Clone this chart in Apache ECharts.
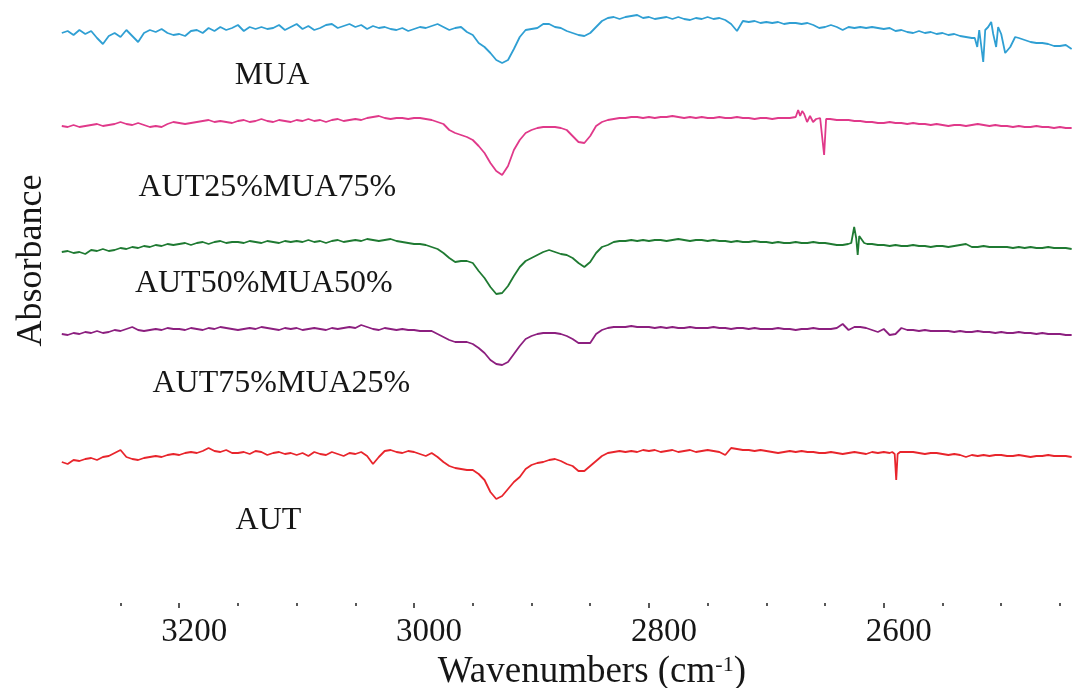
<!DOCTYPE html>
<html>
<head>
<meta charset="utf-8">
<script src="https://cdn.jsdelivr.net/npm/echarts@6/dist/echarts.min.js"></script>
<style>
html,body{margin:0;padding:0;background:#fff;}
#chart{width:1074px;height:688px;}
</style>
</head>
<body>
<div id="chart"></div>
<script>
// Wavenumber sampling grid (cm-1): 3300 down to 2440, step 5
const wnStart = 3300;
const wnStep = 5;

const seriesNames = ['MUA', 'AUT25%MUA75%', 'AUT50%MUA50%', 'AUT75%MUA25%', 'AUT'];
const seriesColors = ['#2f9fd3', '#e0398a', '#1f7a32', '#8c1f7f', '#e8252c'];

const tickLabels = [3200, 3000, 2800, 2600];
const minorTicks = [3250, 3150, 3100, 3050, 2950, 2900, 2850, 2750, 2700, 2650, 2550, 2500, 2450];

// Label anchor points [wavenumber, absorbance]
const labelPos = [[3121, 5.27], [3125, 4.15], [3128, 3.19], [3113, 2.19], [3124, 0.82]];

const mua = [
5.70,5.72,5.68,5.73,5.69,5.72,5.65,5.59,5.67,5.70,
5.66,5.73,5.67,5.61,5.70,5.73,5.71,5.74,5.70,5.68,
5.69,5.67,5.72,5.73,5.70,5.75,5.72,5.76,5.73,5.75,
5.78,5.72,5.76,5.74,5.76,5.74,5.75,5.78,5.73,5.76,
5.79,5.74,5.77,5.73,5.75,5.78,5.79,5.75,5.77,5.79,
5.76,5.78,5.74,5.77,5.75,5.76,5.74,5.73,5.75,5.72,
5.74,5.76,5.75,5.77,5.79,5.76,5.73,5.75,5.76,5.71,
5.68,5.60,5.56,5.50,5.43,5.40,5.43,5.54,5.66,5.73,
5.74,5.75,5.79,5.79,5.76,5.75,5.72,5.70,5.68,5.67,
5.70,5.76,5.82,5.85,5.86,5.84,5.86,5.87,5.88,5.85,
5.86,5.84,5.85,5.86,5.84,5.86,5.84,5.83,5.85,5.84,
5.86,5.84,5.85,5.83,5.79,5.72,5.82,5.81,5.82,5.80,
5.81,5.80,5.81,5.79,5.80,5.80,5.79,5.80,5.78,5.75,
5.76,5.78,5.76,5.73,5.76,5.75,5.76,5.75,5.76,5.75,
5.74,5.75,5.72,5.73,5.71,5.70,5.72,5.70,5.71,5.69,
5.70,5.68,5.69,5.67,5.66,5.65,5.63,5.53,5.78,5.58,
5.69,5.53,5.63,5.65,5.63,5.61,5.60,5.60,5.59,5.57,
5.57,5.58,5.54
];
const muaDetail = [
[2522.5,5.65],[2520.4,5.56],[2518.7,5.73],[2515.3,5.41],[2513.6,5.73],[2511.1,5.76],
[2508.5,5.81],[2506.8,5.69],[2504.3,5.56],[2502.6,5.76],[2500.0,5.69],[2496.6,5.50],
[2492.3,5.56],[2488.1,5.66]
];

const aut25mua75 = [
4.77,4.76,4.78,4.76,4.77,4.78,4.79,4.77,4.78,4.79,
4.81,4.79,4.78,4.80,4.78,4.76,4.77,4.76,4.79,4.81,
4.80,4.79,4.80,4.81,4.82,4.83,4.81,4.82,4.81,4.80,
4.82,4.83,4.81,4.82,4.84,4.82,4.81,4.83,4.82,4.81,
4.83,4.82,4.84,4.82,4.83,4.81,4.83,4.84,4.82,4.83,
4.84,4.83,4.85,4.86,4.87,4.85,4.84,4.85,4.85,4.84,
4.85,4.85,4.84,4.83,4.81,4.79,4.73,4.70,4.68,4.66,
4.63,4.57,4.50,4.40,4.32,4.28,4.37,4.53,4.63,4.70,
4.73,4.75,4.76,4.76,4.76,4.75,4.73,4.67,4.61,4.60,
4.67,4.77,4.81,4.83,4.84,4.85,4.85,4.86,4.86,4.85,
4.86,4.85,4.86,4.86,4.87,4.86,4.85,4.86,4.85,4.86,
4.85,4.85,4.86,4.85,4.85,4.86,4.85,4.85,4.84,4.85,
4.85,4.84,4.85,4.85,4.85,4.86,4.88,4.81,4.81,4.85,
4.84,4.84,4.83,4.83,4.83,4.82,4.82,4.81,4.81,4.80,
4.80,4.81,4.80,4.80,4.79,4.80,4.79,4.79,4.78,4.79,
4.78,4.77,4.78,4.78,4.77,4.78,4.79,4.78,4.77,4.78,
4.77,4.77,4.76,4.77,4.76,4.76,4.77,4.76,4.76,4.75,
4.76,4.75,4.75
];
const aut25mua75Detail = [
[2672.9,4.93],[2671.2,4.87],[2669.5,4.92],[2667.8,4.89],[2665.3,4.81],[2662.8,4.87],
[2660.2,4.81],[2657.6,4.84],[2654.2,4.85],[2652.5,4.83],[2650.8,4.48],[2649.1,4.84],
[2645.7,4.84]
];

const aut50mua50 = [
3.51,3.52,3.50,3.51,3.49,3.53,3.52,3.54,3.52,3.53,
3.55,3.54,3.56,3.55,3.57,3.56,3.58,3.57,3.59,3.58,
3.59,3.60,3.58,3.60,3.61,3.59,3.61,3.62,3.60,3.61,
3.61,3.60,3.62,3.61,3.60,3.62,3.61,3.60,3.62,3.61,
3.62,3.61,3.63,3.61,3.62,3.60,3.62,3.63,3.61,3.62,
3.63,3.62,3.64,3.63,3.62,3.63,3.64,3.62,3.61,3.60,
3.59,3.59,3.58,3.56,3.54,3.50,3.45,3.41,3.42,3.42,
3.40,3.32,3.25,3.16,3.09,3.10,3.17,3.27,3.36,3.42,
3.45,3.48,3.51,3.53,3.51,3.49,3.48,3.45,3.40,3.36,
3.41,3.50,3.56,3.58,3.61,3.62,3.62,3.63,3.62,3.63,
3.62,3.63,3.63,3.62,3.63,3.64,3.63,3.62,3.63,3.63,
3.62,3.63,3.62,3.62,3.61,3.62,3.61,3.61,3.62,3.61,
3.61,3.60,3.61,3.60,3.60,3.61,3.60,3.60,3.61,3.60,
3.60,3.59,3.58,3.58,3.59,3.76,3.63,3.60,3.59,3.58,
3.58,3.57,3.58,3.57,3.57,3.58,3.57,3.57,3.56,3.57,
3.57,3.56,3.57,3.58,3.59,3.56,3.56,3.57,3.56,3.56,
3.56,3.56,3.55,3.56,3.55,3.56,3.55,3.55,3.56,3.55,
3.55,3.55,3.54
];
const aut50mua50Detail = [
[2630.3,3.59],[2627.7,3.60],[2625.2,3.76],[2623.5,3.65],[2622.2,3.48],[2620.9,3.67],
[2619.2,3.68],[2616.7,3.60],[2614.1,3.59]
];

const aut75mua25 = [
2.69,2.68,2.70,2.69,2.71,2.70,2.72,2.70,2.71,2.73,
2.72,2.74,2.76,2.73,2.72,2.73,2.74,2.73,2.75,2.74,
2.74,2.73,2.75,2.74,2.73,2.75,2.74,2.76,2.75,2.74,
2.73,2.74,2.75,2.74,2.76,2.75,2.74,2.73,2.75,2.74,
2.75,2.73,2.74,2.75,2.74,2.73,2.75,2.74,2.75,2.76,
2.75,2.78,2.76,2.74,2.73,2.75,2.74,2.73,2.74,2.73,
2.73,2.72,2.72,2.72,2.69,2.66,2.63,2.61,2.61,2.61,
2.59,2.55,2.50,2.43,2.39,2.38,2.41,2.49,2.57,2.64,
2.67,2.69,2.70,2.70,2.70,2.69,2.67,2.64,2.60,2.60,
2.60,2.69,2.73,2.75,2.76,2.76,2.76,2.77,2.76,2.76,
2.76,2.75,2.76,2.75,2.76,2.75,2.75,2.76,2.75,2.75,
2.75,2.76,2.75,2.75,2.74,2.75,2.75,2.74,2.75,2.74,
2.74,2.74,2.75,2.74,2.74,2.73,2.74,2.74,2.75,2.74,
2.74,2.74,2.75,2.79,2.73,2.76,2.76,2.75,2.73,2.71,
2.74,2.68,2.69,2.75,2.73,2.73,2.72,2.73,2.72,2.72,
2.72,2.72,2.71,2.72,2.71,2.71,2.72,2.71,2.71,2.70,
2.71,2.70,2.70,2.71,2.70,2.70,2.69,2.70,2.69,2.69,
2.69,2.68,2.68
];
const aut75mua25Detail = [];

const aut = [
1.41,1.39,1.43,1.42,1.44,1.45,1.43,1.46,1.47,1.50,
1.53,1.46,1.44,1.43,1.45,1.46,1.47,1.46,1.48,1.49,
1.48,1.50,1.51,1.50,1.52,1.55,1.52,1.51,1.53,1.50,
1.50,1.51,1.49,1.52,1.51,1.48,1.50,1.51,1.49,1.50,
1.48,1.50,1.47,1.51,1.49,1.48,1.51,1.49,1.47,1.50,
1.49,1.51,1.47,1.39,1.46,1.52,1.53,1.51,1.50,1.52,
1.51,1.49,1.47,1.50,1.46,1.41,1.37,1.35,1.34,1.33,
1.33,1.29,1.23,1.11,1.04,1.07,1.14,1.21,1.26,1.34,
1.38,1.40,1.41,1.43,1.44,1.42,1.39,1.37,1.32,1.32,
1.37,1.42,1.47,1.50,1.51,1.52,1.51,1.52,1.51,1.53,
1.52,1.53,1.51,1.52,1.53,1.51,1.52,1.53,1.51,1.52,
1.53,1.52,1.51,1.48,1.55,1.54,1.53,1.53,1.52,1.53,
1.52,1.51,1.50,1.51,1.52,1.51,1.52,1.51,1.51,1.50,
1.50,1.51,1.50,1.49,1.50,1.51,1.50,1.49,1.51,1.50,
1.51,1.50,1.50,1.50,1.51,1.51,1.50,1.49,1.50,1.50,
1.49,1.48,1.49,1.48,1.46,1.48,1.47,1.48,1.47,1.48,
1.48,1.47,1.47,1.48,1.47,1.46,1.47,1.47,1.48,1.47,
1.47,1.47,1.46
];
const autDetail = [
[2592.8,1.51],[2590.7,1.49],[2589.4,1.23],[2588.2,1.49],[2586.1,1.51]
];

const seriesValues = [mua, aut25mua75, aut50mua50, aut75mua25, aut];
const seriesDetails = [muaDetail, aut25mua75Detail, aut50mua50Detail, aut75mua25Detail, autDetail];

function buildPoints(vals, detail) {
  let pts = vals.map((v, i) => [wnStart - wnStep * i, v]);
  if (detail.length) {
    const ws = detail.map(d => d[0]);
    const hi = Math.max(...ws), lo = Math.min(...ws);
    pts = pts.filter(p => p[0] > hi || p[0] < lo).concat(detail);
    pts.sort((a, b) => b[0] - a[0]);
  }
  return pts;
}

const FONT = "'Liberation Serif', 'Times New Roman', serif";

const chart = echarts.init(document.getElementById('chart'), null, {renderer: 'canvas'});

const series = seriesNames.map((name, i) => ({
  name: name,
  type: 'line',
  xAxisIndex: 0,
  yAxisIndex: 0,
  data: buildPoints(seriesValues[i], seriesDetails[i]),
  showSymbol: false,
  symbol: 'none',
  smooth: false,
  lineStyle: {color: seriesColors[i], width: 1.8},
  itemStyle: {color: seriesColors[i]},
  z: 2,
  markPoint: {
    silent: true,
    symbol: 'circle',
    symbolSize: 0,
    itemStyle: {color: 'rgba(0,0,0,0)'},
    label: {
      show: true,
      position: 'inside',
      formatter: name,
      fontFamily: FONT,
      fontSize: 32,
      color: '#161616'
    },
    data: [{coord: labelPos[i]}]
  }
}));

chart.setOption({
  animation: false,
  backgroundColor: '#ffffff',
  grid: {left: 61.8, right: 0, top: 0, bottom: 85, containLabel: false, outerBoundsMode: 'none'},
  xAxis: [
    {
      type: 'value', min: 2438, max: 3300, inverse: true, position: 'bottom',
      axisLine: {show: false},
      splitLine: {show: false},
      axisTick: {show: true, customValues: tickLabels, length: 5, lineStyle: {color: '#222', width: 1.5}},
      axisLabel: {
        show: true, customValues: tickLabels, fontFamily: FONT, fontSize: 33, color: '#161616',
        margin: 13, padding: [0, 0, 0, 30],
        formatter: function (v) { return String(v); }
      },
      name: '{a|Wavenumbers (cm}{s|-1}{a|)}',
      nameLocation: 'middle',
      nameGap: 50,
      nameTextStyle: {
        padding: [0, 0, 0, 48],
        rich: {
          a: {fontFamily: FONT, fontSize: 37, color: '#161616'},
          s: {fontFamily: FONT, fontSize: 22, color: '#161616', verticalAlign: 'top'}
        }
      }
    },
    {
      type: 'value', min: 2438, max: 3300, inverse: true, position: 'bottom',
      axisLine: {show: false},
      splitLine: {show: false},
      axisTick: {show: true, customValues: minorTicks, length: 3, lineStyle: {color: '#222', width: 1.5}},
      axisLabel: {show: false}
    }
  ],
  yAxis: {
    type: 'value', min: 0, max: 6.03,
    axisLine: {show: false}, axisTick: {show: false}, axisLabel: {show: false}, splitLine: {show: false},
    name: 'Absorbance', nameLocation: 'middle', nameGap: 12, nameRotate: 90,
    nameTextStyle: {fontFamily: FONT, fontSize: 36, color: '#161616', padding: [0, 0, 0, 82]}
  },
  series: series
});
</script>
</body>
</html>
